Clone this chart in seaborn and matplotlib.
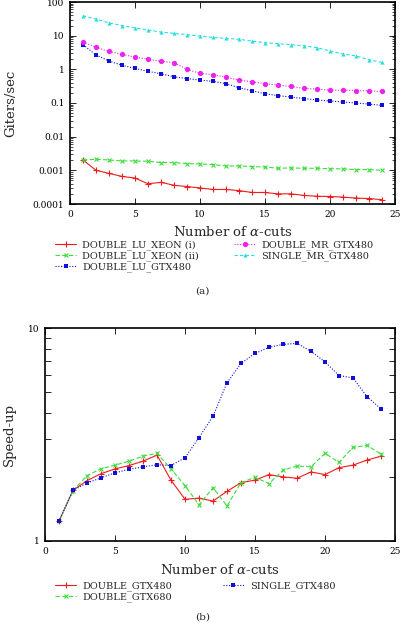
import numpy as np
import pandas as pd
import matplotlib
matplotlib.use("Agg")
import matplotlib.pyplot as plt
import seaborn as sns

# ---------------- data ----------------
cuts = list(range(1, 25))

xeon_i = [0.00203, 0.00100, 0.00081, 0.00066, 0.00059, 0.00040, 0.00044, 0.00036,
          0.00033, 0.00030, 0.00027, 0.00027, 0.00025, 0.00022, 0.00022, 0.00020,
          0.00020, 0.00018, 0.00017, 0.000167, 0.00016, 0.00015, 0.000145, 0.000135]
xeon_ii = [0.00203, 0.00213, 0.00203, 0.00190, 0.00190, 0.00186, 0.00170, 0.00170,
           0.00158, 0.00155, 0.00148, 0.00135, 0.00135, 0.00129, 0.00126, 0.00115,
           0.00118, 0.00115, 0.00115, 0.00112, 0.00110, 0.00105, 0.00105, 0.00100]
lu_gtx480 = [5.4, 2.67, 1.77, 1.32, 1.07, 0.87, 0.74, 0.60, 0.53, 0.48, 0.44, 0.375,
             0.285, 0.23, 0.19, 0.165, 0.15, 0.135, 0.123, 0.115, 0.107, 0.100, 0.093, 0.085]
mr_gtx480 = [6.5, 4.5, 3.4, 2.8, 2.3, 2.0, 1.73, 1.58, 1.0, 0.76, 0.69, 0.58, 0.48,
             0.43, 0.375, 0.34, 0.31, 0.27, 0.26, 0.24, 0.24, 0.235, 0.23, 0.22]
single_mr = [39, 31, 24, 20, 17, 14.7, 12.8, 11.7, 10.7, 9.8, 8.9, 8.3, 7.8, 6.9,
             6.2, 5.8, 5.4, 5.0, 4.4, 3.5, 2.85, 2.5, 1.94, 1.6]

sp_double480 = [1.24, 1.73, 1.92, 2.07, 2.18, 2.26, 2.37, 2.53, 1.93, 1.57, 1.59, 1.54,
                1.71, 1.88, 1.93, 2.05, 2.00, 1.97, 2.11, 2.05, 2.21, 2.27, 2.40, 2.50]
sp_double680 = [1.24, 1.72, 2.03, 2.18, 2.27, 2.37, 2.50, 2.58, 2.18, 1.82, 1.48, 1.78,
                1.46, 1.88, 1.99, 1.86, 2.15, 2.25, 2.23, 2.58, 2.34, 2.75, 2.81, 2.56]
sp_single480 = [1.24, 1.73, 1.87, 1.98, 2.09, 2.17, 2.23, 2.28, 2.26, 2.46, 3.06, 3.85,
                5.53, 6.82, 7.6, 8.11, 8.38, 8.47, 7.77, 6.93, 5.98, 5.83, 4.76, 4.17]

labels_a = ["DOUBLE_LU_XEON (i)", "DOUBLE_LU_XEON (ii)", "DOUBLE_LU_GTX480",
            "DOUBLE_MR_GTX480", "SINGLE_MR_GTX480"]
labels_b = ["DOUBLE_GTX480", "DOUBLE_GTX680", "SINGLE_GTX480"]

xticks = [0, 5, 10, 15, 20, 25]
yticks_a = [0.0001, 0.001, 0.01, 0.1, 1, 10, 100]
yticklabels_a = ["0.0001", "0.001", "0.01", "0.1", "1", "10", "100"]
yticks_b = [1, 10]
yticklabels_b = ["1", "10"]

# ---------------- style ----------------
sns.set_theme(style="ticks")
plt.rcParams['font.family'] = ['DejaVu Serif']
plt.rcParams['mathtext.fontset'] = 'dejavuserif'

RED = '#ee1c1c'
GREEN = '#3ddc3d'
BLUE = '#1010d8'
MAG = '#ee22ee'
CYAN = '#2adede'

styles_a = [
    dict(color=RED, linestyle='-', marker='+', ms=4, mew=0.8),
    dict(color=GREEN, linestyle=(0, (4, 2)), marker='x', ms=3.5, mew=0.8),
    dict(color=BLUE, linestyle=(0, (1, 1.5)), marker='s', ms=3.5, mew=0),
    dict(color=MAG, linestyle=(0, (1, 1.5)), marker='o', ms=3.8, mew=0),
    dict(color=CYAN, linestyle=(0, (3, 2)), marker='^', ms=3, mew=0),
]
styles_b = [
    dict(color=RED, linestyle='-', marker='+', ms=4, mew=0.8),
    dict(color=GREEN, linestyle=(0, (4, 2)), marker='x', ms=3.5, mew=0.8),
    dict(color=BLUE, linestyle=(0, (1, 1.5)), marker='s', ms=3.5, mew=0),
]

W, H = 405, 623
fig = plt.figure(figsize=(W / 100, H / 100), dpi=100)
fig.patch.set_facecolor('white')


def px_axes(l, t, r, b):
    return fig.add_axes([l / W, 1 - b / H, (r - l) / W, (b - t) / H])


def style_axes(ax):
    ax.set_facecolor('white')
    for s in ax.spines.values():
        s.set_color('black')
        s.set_linewidth(1.2)
    ax.tick_params(which='both', direction='in', top=True, right=True,
                   colors='black', labelsize=6.5, pad=4)
    ax.tick_params(which='major', length=4, width=0.6)
    ax.tick_params(which='minor', length=2, width=0.5)


# ---------------- top plot ----------------
ax1 = px_axes(70, 2, 395, 204)
series_a = [xeon_i, xeon_ii, lu_gtx480, mr_gtx480, single_mr]
for vals, lab, st in zip(series_a, labels_a, styles_a):
    df = pd.DataFrame({"cuts": cuts, "val": vals})
    sns.lineplot(data=df, x="cuts", y="val", ax=ax1, label=lab,
                 color=st['color'], linestyle=st['linestyle'], linewidth=0.8,
                 marker=st['marker'], markersize=st['ms'], markeredgewidth=st['mew'],
                 markeredgecolor=st['color'])
ax1.set_yscale('log')
ax1.set_xlim(0, 25)
ax1.set_ylim(0.0001, 100)
ax1.set_xticks(xticks)
ax1.set_yticks(yticks_a)
ax1.set_yticklabels(yticklabels_a)
ax1.yaxis.set_minor_locator(matplotlib.ticker.LogLocator(base=10, subs=np.arange(2, 10)))
ax1.yaxis.set_minor_formatter(matplotlib.ticker.NullFormatter())
style_axes(ax1)
ax1.set_xlabel(r"Number of $\alpha$-cuts", fontsize=9.5, labelpad=5)
ax1.set_ylabel("Giters/sec", fontsize=9.5)
ax1.yaxis.set_label_coords(-(70 - 17) / 325, 0.5)
h1, l1 = ax1.get_legend_handles_labels()
ax1.get_legend().remove()
fig.legend(h1, l1, loc='upper left', bbox_to_anchor=(55 / W, 1 - 240 / H),
           ncol=2, frameon=False, fontsize=7, handlelength=2.2, handletextpad=0.6,
           columnspacing=3.6, labelspacing=0.15, borderaxespad=0, borderpad=0)
fig.text(0.5, 1 - 291 / H, "(a)", ha='center', va='center', fontsize=7.5)

# ---------------- bottom plot ----------------
ax2 = px_axes(45, 328, 395, 541)
series_b = [sp_double480, sp_double680, sp_single480]
for vals, lab, st in zip(series_b, labels_b, styles_b):
    df = pd.DataFrame({"cuts": cuts, "val": vals})
    sns.lineplot(data=df, x="cuts", y="val", ax=ax2, label=lab,
                 color=st['color'], linestyle=st['linestyle'], linewidth=0.8,
                 marker=st['marker'], markersize=st['ms'], markeredgewidth=st['mew'],
                 markeredgecolor=st['color'])
ax2.set_yscale('log')
ax2.set_xlim(0, 25)
ax2.set_ylim(1, 10)
ax2.set_xticks(xticks)
ax2.set_yticks(yticks_b)
ax2.set_yticklabels(yticklabels_b)
ax2.yaxis.set_minor_locator(matplotlib.ticker.LogLocator(base=10, subs=np.arange(2, 10)))
ax2.yaxis.set_minor_formatter(matplotlib.ticker.NullFormatter())
style_axes(ax2)
ax2.tick_params(which='minor', length=4, width=0.6)
ax2.set_xlabel(r"Number of $\alpha$-cuts", fontsize=9.5, labelpad=5)
ax2.set_ylabel("Speed-up", fontsize=9.5)
ax2.yaxis.set_label_coords(-(45 - 16) / 350, 0.5)
h2, l2 = ax2.get_legend_handles_labels()
ax2.get_legend().remove()
fig.legend(h2, l2, loc='upper left', bbox_to_anchor=(55 / W, 1 - 581 / H),
           ncol=2, frameon=False, fontsize=7, handlelength=2.2, handletextpad=0.6,
           columnspacing=5.2, labelspacing=0.15, borderaxespad=0, borderpad=0)
fig.text(0.5, 1 - 617 / H, "(b)", ha='center', va='center', fontsize=7.5)

fig.savefig("out.png", dpi=100, facecolor='white')
